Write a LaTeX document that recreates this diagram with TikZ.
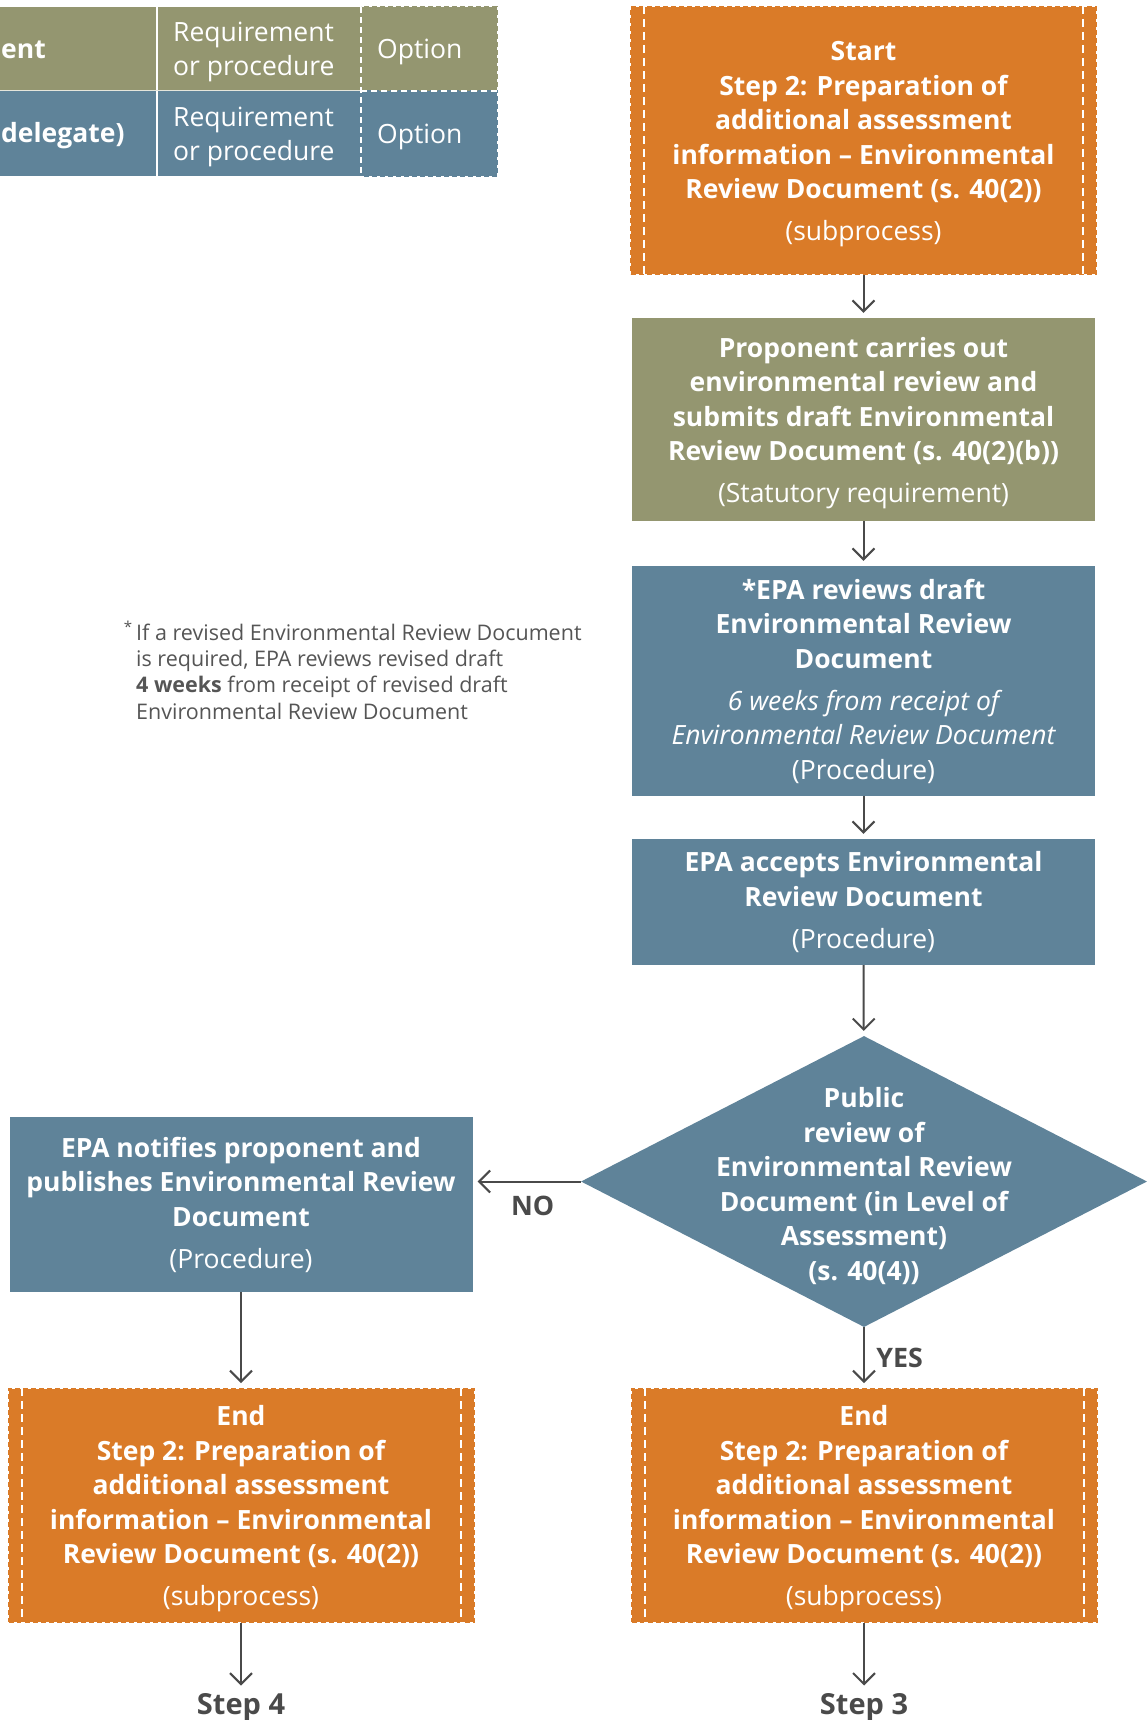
\documentclass[tikz,border=0pt]{standalone}
\usepackage{fontspec}
\setmainfont{Open Sans}
\usetikzlibrary{shapes.geometric,arrows.meta}
\definecolor{subOrange}{HTML}{DA7B28}
\definecolor{propGreen}{HTML}{949670}
\definecolor{epaBlue}{HTML}{5F8399}
\definecolor{arrGray}{HTML}{4A4A4A}
\definecolor{noteGray}{HTML}{555555}
\newcommand{\topgap}{\rule{0pt}{27pt}}
\begin{document}
\begin{tikzpicture}[x=1pt,y=-1pt]
	\useasboundingbox (0,0) rectangle (1147,1720);
	\tikzstyle{BoxStyle}=[inner sep=0pt,text=white,align=center,font=\fontsize{26.5}{34.5}\selectfont\bfseries]
	\tikzstyle{SubStyle}=[BoxStyle,fill=subOrange,draw=subOrange,line width=2pt,dash pattern=on 5pt off 3pt,minimum width=465pt,minimum height=233pt]
	\tikzstyle{ProStyle}=[BoxStyle,fill=propGreen,minimum width=463pt]
	\tikzstyle{EpaStyle}=[BoxStyle,fill=epaBlue,minimum width=463pt]
	\tikzstyle{LegStyle}=[inner sep=0pt,text=white,font=\fontsize{26.5}{34}\selectfont]
	\tikzstyle{LabelStyle}=[text=arrGray,font=\fontsize{26.8}{30}\selectfont\bfseries]
	\tikzstyle{ArrowStyle}=[arrGray,line width=2pt,-{Straight Barb[length=11pt,width=22pt]},shorten >=5pt]
	\fill[propGreen] (0,7) rectangle (361,91);
	\fill[epaBlue] (0,91) rectangle (361,176);
	\draw[white,line width=1.5pt] (157,7) -- (157,176);
	\draw[white!75!propGreen,line width=1pt] (0,91) -- (361,91);
	\filldraw[propGreen,line width=2pt,dash pattern=on 5pt off 3pt] (361,7) rectangle (497,91);
	\filldraw[epaBlue,line width=2pt,dash pattern=on 5pt off 3pt] (361,91) rectangle (497,176);
	\draw[white,line width=2pt,dash pattern=on 6pt off 4pt] (361,7) -- (361,176) (361,91) -- (497,91);
	\node[LegStyle,font=\fontsize{26.5}{34}\selectfont\bfseries,anchor=west] (legProp) at (1,50) {ent};
	\node[LegStyle,font=\fontsize{26.5}{34}\selectfont\bfseries,anchor=west] (legEpa) at (1,136) {delegate)};
	\foreach \r/\y in {A/51.5,B/136.5}{
		\node[LegStyle,align=left,anchor=west] (legReq\r) at (173,\y) {Requirement\\or procedure};
		\node[LegStyle,anchor=west] (legOpt\r) at (377,\y) {Option};
	}
	\node[anchor=north west,align=left,inner sep=0pt,text=noteGray,font=\fontsize{21.5}{26.3}\selectfont] (note) at (136,621)
		{\llap{\textsuperscript{*}\,}If a revised Environmental Review Document\\is required, EPA reviews revised draft\\\textbf{4 weeks} from receipt of revised draft\\Environmental Review Document};
	\node[SubStyle,minimum height=267pt] (start) at (863.5,140.5) {\topgap Start\\Step 2: Preparation of\\additional assessment\\information – Environmental\\Review Document (s. 40(2))\\[7.5pt]{\mdseries (subprocess)}};
	\node[ProStyle,minimum height=203pt] (prop) at (863.5,419.5) {\topgap Proponent carries out\\environmental review and\\submits draft Environmental\\Review Document (s. 40(2)(b))\\[7.5pt]{\mdseries (Statutory requirement)}};
	\node[EpaStyle,minimum height=230pt] (rev) at (863.5,681) {*EPA reviews draft\\Environmental Review\\Document\\[7.5pt]{\mdseries\itshape 6 weeks from receipt of}\\{\mdseries\itshape Environmental Review Document}\\{\mdseries (Procedure)}};
	\node[EpaStyle,minimum height=126pt] (acc) at (863.5,902) {EPA accepts Environmental\\Review Document\\[7.5pt]{\mdseries (Procedure)}};
	\node[diamond,fill=epaBlue,minimum width=566pt,minimum height=291pt,inner sep=0pt] (pub) at (864,1181.5) {};
	\node[BoxStyle] (pubText) at (864,1186) {Public\\review of\\Environmental Review\\Document (in Level of\\Assessment)\\(s. 40(4))};
	\node[EpaStyle,minimum height=175pt] (notif) at (241,1204.5) {EPA notifies proponent and\\publishes Environmental Review\\Document\\[7.5pt]{\mdseries (Procedure)}};
	\node[SubStyle] (endL) at (241,1505.5) {\topgap End\\Step 2: Preparation of\\additional assessment\\information – Environmental\\Review Document (s. 40(2))\\[7.5pt]{\mdseries (subprocess)}};
	\node[SubStyle] (endR) at (864,1505.5) {\topgap End\\Step 2: Preparation of\\additional assessment\\information – Environmental\\Review Document (s. 40(2))\\[7.5pt]{\mdseries (subprocess)}};
	\node[LabelStyle,font=\fontsize{29}{32}\selectfont\bfseries] (step4) at (241,1707) {Step 4};
	\node[LabelStyle,font=\fontsize{29}{32}\selectfont\bfseries] (step3) at (864,1707) {Step 3};
	\foreach \n in {start,endL,endR}{
		\draw[white,line width=2pt,dash pattern=on 8pt off 5pt] ([xshift=14pt]\n.north west) -- ([xshift=14pt]\n.south west);
		\draw[white,line width=2pt,dash pattern=on 8pt off 5pt] ([xshift=-14pt]\n.north east) -- ([xshift=-14pt]\n.south east);
	}
	\draw[ArrowStyle] (start) -- (prop);
	\draw[ArrowStyle] (prop) -- (rev);
	\draw[ArrowStyle] (rev) -- (acc);
	\draw[ArrowStyle] (acc) -- (pub);
	\draw[ArrowStyle] (pub) -- node[LabelStyle,right,xshift=8pt] (yes) {YES} (endR);
	\draw[ArrowStyle] (pub.west) -- node[LabelStyle,below,xshift=6pt,yshift=-10pt] (no) {NO} (pub.west -| notif.east);
	\draw[ArrowStyle] (notif) -- (endL);
	\draw[ArrowStyle,shorten >=4pt] (endL) -- (step4);
	\draw[ArrowStyle,shorten >=4pt] (endR) -- (step3);
\end{tikzpicture}
\end{document}
